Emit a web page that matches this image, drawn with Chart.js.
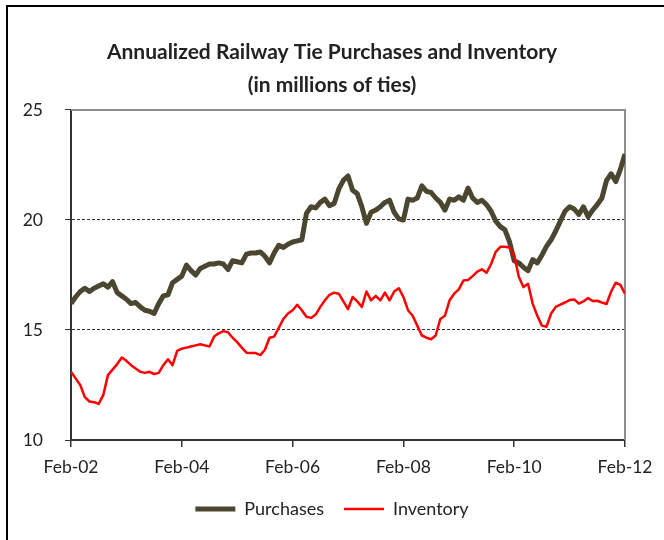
<!DOCTYPE html>
<html>
<head>
<meta charset="utf-8">
<script src="https://cdn.jsdelivr.net/npm/chart.js@4.4.1/dist/chart.umd.min.js"></script>
<style>
    body { margin: 0; background: #fff; }
    #wrap { position: relative; width: 664px; height: 540px; }
    #frame { position: absolute; left: 6px; top: 5px; width: 700px; height: 600px; border: 2px solid #000; pointer-events: none; }
</style>
</head>
<body>
<div id="wrap">
    <canvas id="tie-chart" width="664" height="540"></canvas>
    <div id="frame"></div>
</div>
<script>
// monthly values, Feb-02 .. Feb-12 (121 months)
const purchases = [
    16.2, 16.5, 16.75, 16.9, 16.75, 16.9, 17.0, 17.1, 16.95, 17.2, 16.7, 16.55,
    16.4, 16.2, 16.25, 16.05, 15.9, 15.85, 15.75, 16.2, 16.55, 16.6, 17.15, 17.3,
    17.45, 17.95, 17.7, 17.5, 17.8, 17.9, 18.0, 18.0, 18.05, 18.0, 17.75, 18.15,
    18.1, 18.05, 18.45, 18.5, 18.5, 18.55, 18.35, 18.05, 18.5, 18.85, 18.75, 18.9,
    19.0, 19.05, 19.1, 20.3, 20.6, 20.55, 20.8, 20.95, 20.65, 20.75, 21.4, 21.8,
    22.0, 21.35, 21.2, 20.6, 19.85, 20.35, 20.45, 20.6, 20.8, 20.9, 20.35, 20.05,
    20.0, 20.95, 20.9, 21.0, 21.55, 21.3, 21.25, 21.0, 20.8, 20.45, 20.95, 20.9,
    21.05, 20.9, 21.45, 21.0, 20.8, 20.9, 20.7, 20.4, 19.95, 19.7, 19.55, 19.0,
    18.15, 18.05, 17.85, 17.7, 18.2, 18.05, 18.4, 18.8, 19.1, 19.5, 19.95, 20.4,
    20.6, 20.5, 20.25, 20.6, 20.15, 20.45, 20.7, 21.0, 21.8, 22.1, 21.75, 22.3,
    23.0
];
const inventory = [
    13.1, 12.8, 12.5, 11.95, 11.75, 11.72, 11.64, 12.05, 12.95, 13.2, 13.45, 13.75,
    13.6, 13.4, 13.25, 13.1, 13.05, 13.1, 13.0, 13.05, 13.4, 13.67, 13.4, 14.05,
    14.15, 14.2, 14.25, 14.3, 14.35, 14.3, 14.25, 14.7, 14.85, 14.95, 14.9, 14.65,
    14.45, 14.2, 13.97, 13.96, 13.95, 13.86, 14.1, 14.65, 14.7, 15.1, 15.5, 15.75,
    15.9, 16.15, 15.9, 15.6, 15.55, 15.7, 16.05, 16.35, 16.6, 16.7, 16.65, 16.3,
    15.95, 16.5, 16.3, 16.05, 16.75, 16.35, 16.55, 16.35, 16.7, 16.35, 16.75, 16.9,
    16.5, 15.9, 15.65, 15.2, 14.75, 14.65, 14.58, 14.75, 15.5, 15.65, 16.35, 16.65,
    16.85, 17.25, 17.27, 17.45, 17.65, 17.76, 17.6, 18.0, 18.55, 18.78, 18.78, 18.75,
    18.4, 17.42, 16.95, 17.1, 16.2, 15.65, 15.2, 15.15, 15.75, 16.05, 16.15, 16.25,
    16.36, 16.39, 16.2, 16.3, 16.45, 16.32, 16.33, 16.25, 16.18, 16.75, 17.15, 17.05,
    16.65
];
const tickLabels = ['Feb-02', 'Feb-04', 'Feb-06', 'Feb-08', 'Feb-10', 'Feb-12'];
const seriesNames = ['Purchases', 'Inventory'];

const FONT = 'Lato, "Open Sans", sans-serif';
const ink = '#222';

const toPoints = (arr) => arr.map((v, i) => ({ x: i, y: v }));

// gray top/right edge of the plot area
const plotEdge = {
    id: 'plotEdge',
    beforeDatasetsDraw(chart) {
        const a = chart.chartArea;
        const c = chart.ctx;
        c.save();
        c.strokeStyle = '#8c8c8c';
        c.lineWidth = 2;
        c.beginPath();
        c.moveTo(a.left, a.top);
        c.lineTo(a.right, a.top);
        c.lineTo(a.right, a.bottom);
        c.stroke();
        c.restore();
    }
};

const ctx = document.getElementById('tie-chart').getContext('2d');
const chart = new Chart(ctx, {
    type: 'line',
    data: {
        datasets: [{
            label: seriesNames[0],
            data: toPoints(purchases),
            borderColor: '#4b4630',
            backgroundColor: '#4b4630',
            borderWidth: 5,
            pointRadius: 0,
            tension: 0,
            borderJoinStyle: 'round',
            order: 1
        }, {
            label: seriesNames[1],
            data: toPoints(inventory),
            borderColor: '#ff0000',
            backgroundColor: '#ff0000',
            borderWidth: 2.5,
            pointRadius: 0,
            tension: 0,
            borderJoinStyle: 'round',
            order: 0
        }]
    },
    options: {
        responsive: false,
        animation: false,
        layout: {
            padding: { left: 0, right: 0, top: 0, bottom: 12 }
        },
        scales: {
            x: {
                type: 'linear',
                min: 0,
                max: 120,
                afterFit: (s) => { s.height = 40; },
                ticks: {
                    stepSize: 24,
                    color: ink,
                    font: { family: FONT, size: 17.5 },
                    padding: 9.5,
                    maxRotation: 0,
                    callback: (v) => tickLabels[v / 24]
                },
                grid: {
                    drawOnChartArea: false,
                    tickLength: 7,
                    color: '#333',
                    lineWidth: 1.5
                },
                border: { color: '#333', width: 2 }
            },
            y: {
                min: 10,
                max: 25,
                afterFit: (s) => { s.width = 71; },
                ticks: {
                    stepSize: 5,
                    color: ink,
                    font: { family: FONT, size: 17.5 },
                    padding: 22
                },
                grid: {
                    color: (c) => (c.tick && (c.tick.value === 15 || c.tick.value === 20)) ? '#333' : 'rgba(0,0,0,0)',
                    tickColor: '#333',
                    tickLength: 6,
                    lineWidth: 1
                },
                border: { color: '#333', width: 2, dash: [3, 2] }
            },
            // empty right-hand spacer so the title stays centred on the page
            spacer: {
                type: 'linear',
                position: 'right',
                afterFit: (s) => { s.width = 39; },
                ticks: { display: false },
                grid: { display: false },
                border: { display: false }
            }
        },
        plugins: {
            title: {
                display: true,
                text: ['Annualized Railway Tie Purchases and Inventory', '(in millions of ties)'],
                color: ink,
                font: { family: FONT, size: 21, weight: 'bold', lineHeight: 1.5714 },
                padding: { top: 35.5, bottom: 8.5 }
            },
            legend: {
                position: 'bottom',
                labels: {
                    color: ink,
                    font: { family: FONT, size: 18 },
                    usePointStyle: true,
                    pointStyle: 'line',
                    pointStyleWidth: 40,
                    boxWidth: 40,
                    boxHeight: 12,
                    padding: 20,
                    sort: (a, b) => a.datasetIndex - b.datasetIndex
                }
            },
            tooltip: { enabled: false }
        }
    },
    plugins: [plotEdge]
});
</script>
</body>
</html>
